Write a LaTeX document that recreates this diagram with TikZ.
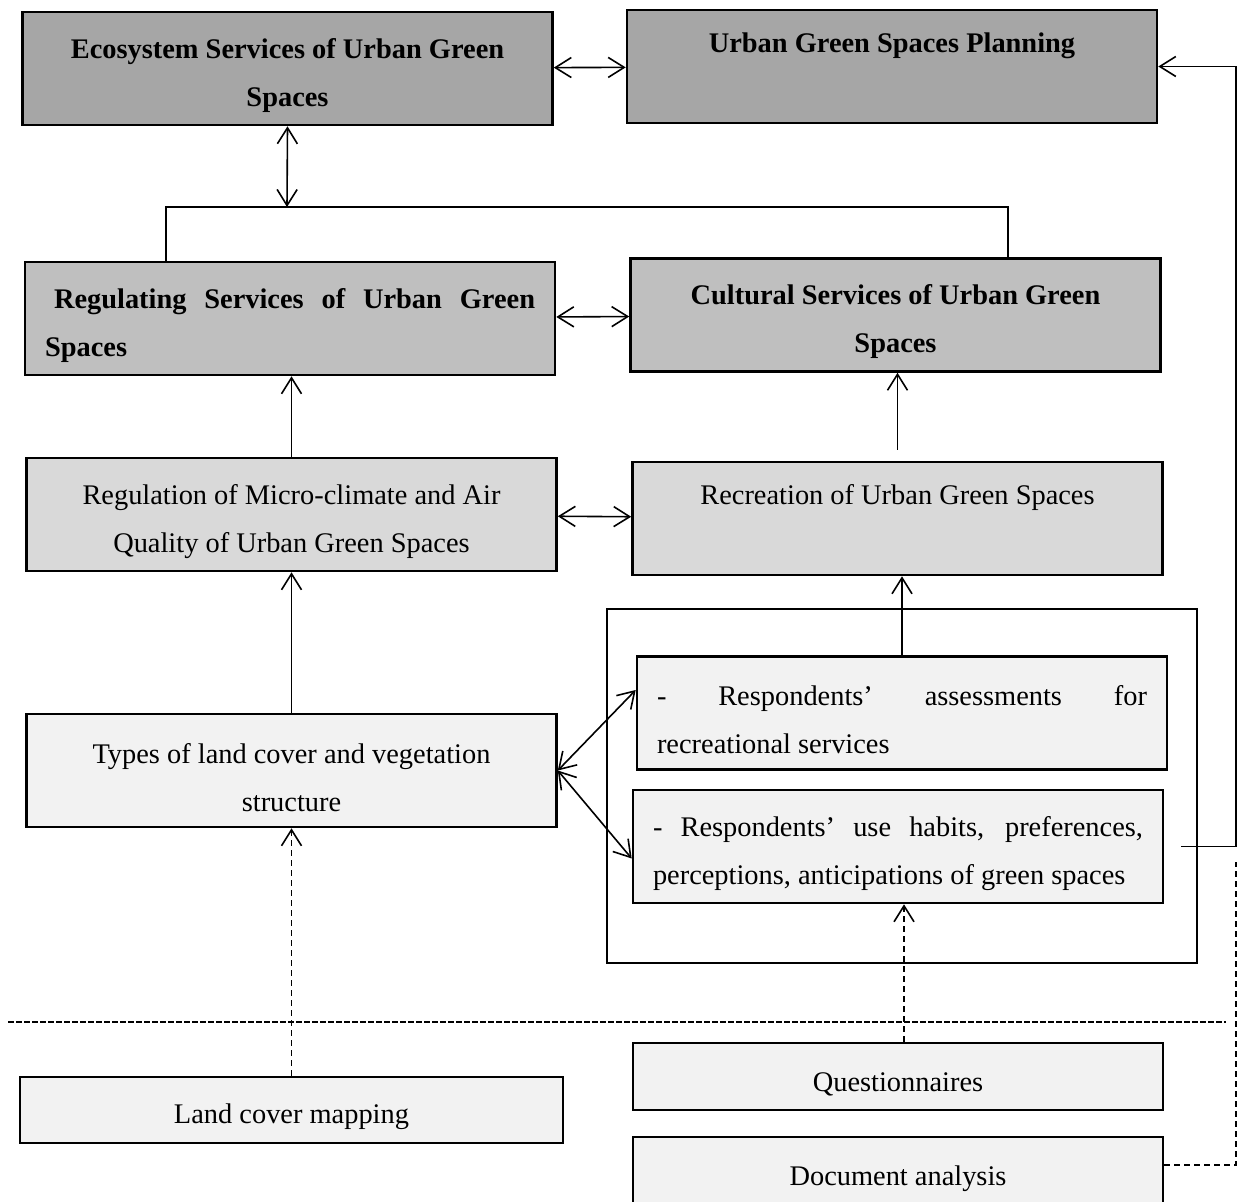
\documentclass[tikz,border=0pt]{standalone}
\usepackage{fontspec}
\setmainfont{Liberation Serif}
\definecolor{ugdark}{HTML}{A6A6A6}
\definecolor{ugmid}{HTML}{BFBFBF}
\definecolor{uglight}{HTML}{D9D9D9}
\definecolor{ugpale}{HTML}{F2F2F2}
\usetikzlibrary{arrows.meta,positioning}

\begin{document}
\begin{tikzpicture}[x=0.5pt, y=-0.5pt,
    box/.style={rectangle, draw=black, line width=1.3pt,
                minimum width=265pt, minimum height=56.5pt,
                text width=245pt, align=flush center,
                font=\fontsize{14.2pt}{24pt}\selectfont,
                execute at begin node={\rule{0pt}{17pt}}},
    jbox/.style={box, align=justify},
    grpbox/.style={rectangle, draw=black, line width=1pt,
                   minimum width=295pt, minimum height=177pt},
    arr/.style={-{Straight Barb[length=8pt,width=10pt]}, line width=0.8pt},
    dbl/.style={{Straight Barb[length=8pt,width=10pt]}-{Straight Barb[length=8pt,width=10pt]}, line width=0.8pt},
    dsh/.style={dash pattern=on 3pt off 2pt, line width=0.8pt}
  ]
    \useasboundingbox (0,0) rectangle (1240,1202);

    % grouping frame for the questionnaire items
    \node[grpbox] (grp) at (902,786) {};

    % top level
    \node[box, fill=ugdark, font=\fontsize{14.2pt}{24pt}\selectfont\bfseries] (eco) at (287.5,68.5)
      {Ecosystem Services of Urban Green\\Spaces};
    \node[box, fill=ugdark, font=\fontsize{14.2pt}{24pt}\selectfont\bfseries] (plan) at (892,66.5)
      {Urban Green Spaces Planning\\ \strut};

    % service types
    \node[jbox, fill=ugmid, font=\fontsize{14.2pt}{24pt}\selectfont\bfseries] (reg) at (290,318.5)
      {\hspace*{4.5pt}Regulating Services of Urban Green\linebreak Spaces};
    \node[box, fill=ugmid, font=\fontsize{14.2pt}{24pt}\selectfont\bfseries] (cult) at (895.5,315)
      {Cultural Services of Urban Green\\Spaces};

    % services
    \node[box, fill=uglight] (regmic) at (291.5,514.5)
      {Regulation of Micro-climate and Air\\Quality of Urban Green Spaces};
    \node[box, fill=uglight] (recr) at (897.5,518.5)
      {Recreation of Urban Green Spaces\\ \strut};

    % indicators
    \node[box, fill=ugpale] (types) at (291.5,770.5)
      {Types of land cover and vegetation\\structure};
    \node[jbox, fill=ugpale] (assess) at (902,713)
      {- Respondents’ assessments for\linebreak recreational services};
    \node[jbox, fill=ugpale] (use) at (898,846.5)
      {- Respondents’ use habits, preferences,\linebreak perceptions, anticipations of green spaces};

    % methods
    \node[box, fill=ugpale, minimum width=271.5pt, minimum height=33pt] (land) at (291.5,1110) {Land cover mapping};
    \node[box, fill=ugpale, minimum height=33.5pt] (quest) at (898,1076.5) {Questionnaires};
    \node[box, fill=ugpale, minimum height=35pt] (doc) at (898,1172) {Document analysis};

    % helper points
    \coordinate (bus)  at (287,207);
    \coordinate (busL) at (166,207);
    \coordinate (busR) at (1008,207);
    \coordinate (loop) at (1236,0);
    \coordinate (dend) at (1236,862);
    \coordinate (sepL) at (8,1022);
    \coordinate (sepR) at (1226,1022);

    % links between services
    \draw[dbl] (eco) -- (plan);
    \draw[dbl] (eco.south) -- (bus);
    \draw[line width=0.8pt] (busL |- reg.north) -- (busL) -- (busR) -- (busR |- cult.north);
    \draw[dbl] (reg) -- (cult);
    \draw[dbl] (regmic) -- (recr);
    \draw[arr] (regmic.north) -- (regmic.north |- reg.south);
    \draw[arr, shorten <=5.5pt] (recr.north) -- (recr.north |- cult.south);
    \draw[arr] (types.north) -- (types.north |- regmic.south);
    \draw[arr] (assess.north) -- (assess.north |- recr.south);
    \draw[dbl] (types.east) -- ([yshift=11.5pt]assess.west);
    \draw[dbl] (types.east) -- ([yshift=-6pt]use.west);

    % feedback to planning
    \draw[arr] ([xshift=8.5pt]use.east) -| (plan.east -| loop) -- (plan.east);

    % data sources
    \draw[dash pattern=on 3pt off 1pt, line width=0.8pt] (sepL) -- (sepR);
    \draw[arr, dsh] (land.north) -- (land.north |- types.south);
    \draw[arr, dsh] ([xshift=3pt]quest.north) -- ([xshift=3pt]quest.north |- use.south);
    \draw[dsh] ([yshift=3.5pt]doc.east) -| (dend);
\end{tikzpicture}
\end{document}
